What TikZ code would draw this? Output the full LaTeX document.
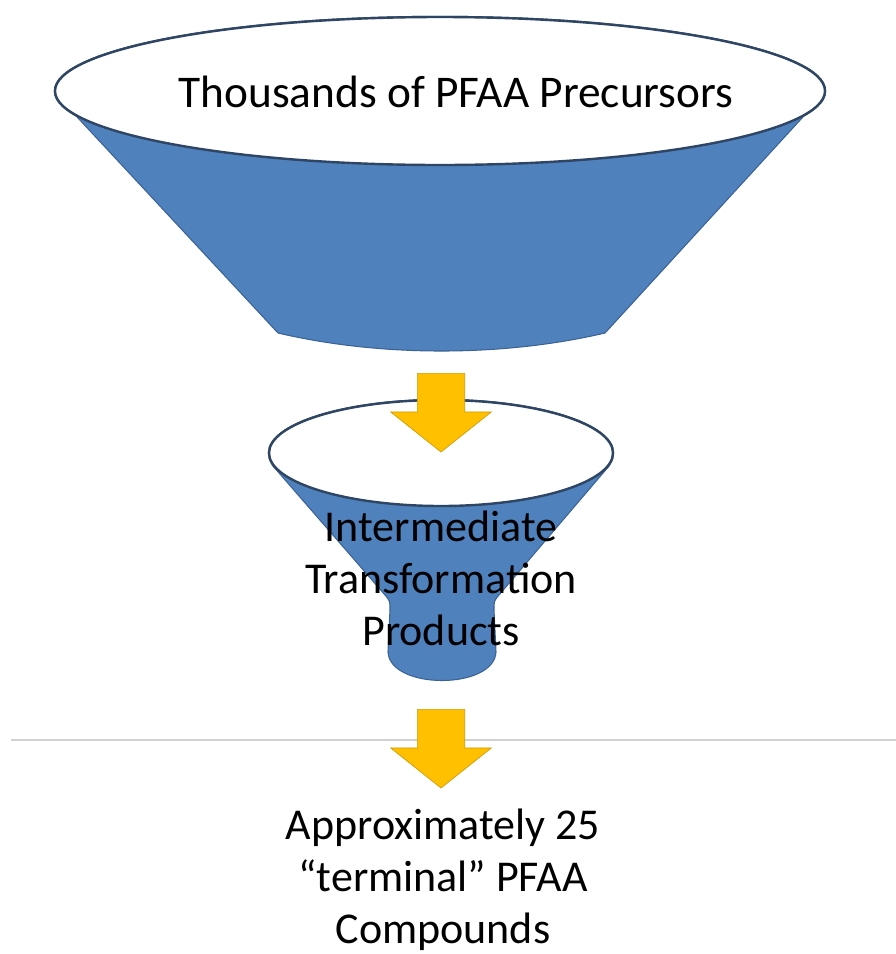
\documentclass[tikz,border=0pt]{standalone}
\usepackage{fontspec}
\setmainfont{Carlito}
\usepackage{tikz}
\usetikzlibrary{shapes,shapes.arrows,positioning}
\definecolor{funnelblue}{HTML}{4F81BD}
\definecolor{funneledge}{HTML}{3C6396}
\definecolor{rimedge}{HTML}{2E4563}
\definecolor{flowgold}{HTML}{FFC000}
\definecolor{flowedge}{HTML}{CC9A06}
\tikzstyle{cone} = [fill=funnelblue, draw=funneledge, line width=0.8pt, line join=round]
\tikzstyle{rim} = [ellipse, fill=white, draw=rimedge, line width=1.8pt, inner sep=0]
\tikzstyle{flow} = [single arrow, rotate=-90, anchor=tail, fill=flowgold, draw=flowedge, line width=0.5pt, minimum height=59pt, inner xsep=0pt, inner ysep=17.5pt, single arrow head extend=20pt, single arrow tip angle=103]
\tikzstyle{stagetext} = [align=center, font=\fontsize{33}{39}\selectfont]

\begin{document}
\begin{tikzpicture}[x=0.75pt, y=-0.75pt]
	\useasboundingbox (0,0) rectangle (896,954);

	% top funnel
	\node [rim, minimum width=577.5pt, minimum height=111pt] (toprim) at (440,91) {};
	\draw [cone] (toprim.184) -- (278,333) .. controls (380,357) and (503,357) .. (605,333) -- (toprim.356) -- cycle;
	\node [rim, minimum width=577.5pt, minimum height=111pt] at (toprim) {};
	\node [font=\fontsize{34}{40}\selectfont] (precursors) at (456,92) {Thousands of PFAA Precursors};

	% middle funnel
	\node [rim, minimum width=258pt, minimum height=79.5pt] (midrim) at (441,453) {};
	\draw [cone] (midrim.184) -- (385,595) .. controls (390,601) .. (390,610) -- (388,652)
		.. controls (390,690) and (494,690) .. (496,652) -- (494,610)
		.. controls (494,601) .. (499,595) -- (midrim.356) -- cycle;
	\node [rim, minimum width=258pt, minimum height=79.5pt] at (midrim) {};
	\node [stagetext] (intermediate) at (441,578) {Intermediate\\Transformation\\Products};

	\node [flow] (flowa) at (441,373) {};

	\coordinate (ruleL) at (11,740);
	\coordinate (ruleR) at (896,740);
	\draw [black!18, line width=0.8pt] (ruleL) -- (ruleR);

	\node [flow] (flowb) at (441,709) {};

	\node [stagetext] (terminal) at (443,880) {Approximately 25\\“terminal” PFAA\\Compounds};
\end{tikzpicture}
\end{document}
